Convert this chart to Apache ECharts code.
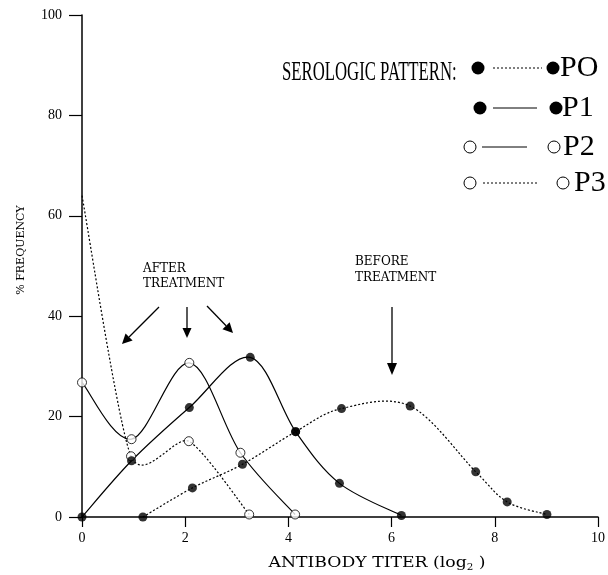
<!DOCTYPE html>
<html>
<head>
<meta charset="utf-8">
<script src="https://cdn.jsdelivr.net/npm/echarts@6/dist/echarts.min.js"></script>
<style>
  html, body { margin: 0; padding: 0; background: #fff; }
  #chart { width: 608px; height: 575px; }
</style>
</head>
<body>
<div id="chart"></div>
<script>
// Antibody titer (log2) vs % frequency, one curve per serologic pattern
const p0Titer = [1.18, 2.14, 3.11, 4.14, 5.03, 6.36, 7.63, 8.24, 9.01];
const p0Freq  = [0, 5.8, 10.5, 17.0, 21.6, 22.1, 9.0, 3.0, 0.5];

const p1Titer = [0, 0.96, 2.08, 3.26, 4.14, 4.99, 6.19];
const p1Freq  = [0, 11.2, 21.8, 31.8, 17.0, 6.7, 0.3];

const p2Titer = [0, 0.96, 2.08, 3.07, 4.13];
const p2Freq  = [26.8, 15.5, 30.7, 12.8, 0.5];

const p3Titer = [0, 0.95, 2.07, 3.24];
const p3Freq  = [64, 12.1, 15.1, 0.5];

const xTicks = [0, 2, 4, 6, 8, 10];
const yTicks = [0, 20, 40, 60, 80, 100];

const SERIF = '"Liberation Serif", "Times New Roman", serif';
const WIDE_SERIF = '"DejaVu Serif", serif';

function zip(xs, ys) { return xs.map((x, i) => [x, ys[i]]); }

const filled = { color: '#000' };
const hollow = { color: '#fff', borderColor: '#000', borderWidth: 1 };

// Smooth curve through the data points (Catmull-Rom in pixel space),
// positioned with the chart's own coordinate system.
function curveSeries(name, xs, ys, dotted, tension) {
  return {
    name, type: 'custom', data: zip(xs, ys), z: 1, silent: true,
    renderItem(params, api) {
      if (params.dataIndex !== 0) return null;
      const p = xs.map((x, i) => api.coord([x, ys[i]]));
      const n = p.length;
      let d = 'M' + p[0][0] + ' ' + p[0][1];
      for (let i = 0; i < n - 1; i++) {
        const a = p[i - 1] || p[i], b = p[i], c = p[i + 1], e = p[i + 2] || p[i + 1];
        const k = tension / 6;
        const c1x = b[0] + (c[0] - a[0]) * k, c1y = b[1] + (c[1] - a[1]) * k;
        const c2x = c[0] - (e[0] - b[0]) * k, c2y = c[1] - (e[1] - b[1]) * k;
        d += ' C' + c1x + ' ' + c1y + ' ' + c2x + ' ' + c2y + ' ' + c[0] + ' ' + c[1];
      }
      return {
        type: 'path',
        shape: { pathData: d },
        style: { fill: null, stroke: '#000', lineWidth: 1.2, lineDash: dotted ? [2, 2] : null }
      };
    }
  };
}

function markerSeries(name, xs, ys, item, hideFirst) {
  const data = zip(xs, ys).map((v, i) =>
    (hideFirst && i === 0) ? { value: v, symbol: 'none' } : v);
  return {
    name, type: 'scatter', data, z: 3, silent: true,
    symbol: 'circle', symbolSize: 9, itemStyle: item,
    emphasis: { disabled: true }
  };
}

const chart = echarts.init(document.getElementById('chart'), null, { renderer: 'canvas' });

// Legend pieces: marker, connector, marker, label
function legendRow(y, xl, xr, x1, x2, xt, label, item, dotted, r) {
  const mk = (cx) => ({
    type: 'circle', shape: { cx, cy: y, r },
    style: item.color === '#000' ? { fill: '#000' } : { fill: '#fff', stroke: '#000', lineWidth: 1 }
  });
  return [
    mk(xl),
    { type: 'line', shape: { x1, y1: y, x2, y2: y },
      style: { stroke: '#000', lineWidth: 1, lineDash: dotted ? [2, 2] : null } },
    mk(xr),
    { type: 'text', x: xt, y: y,
      style: { text: label, font: '30px ' + SERIF, fill: '#000', align: 'left', verticalAlign: 'middle' } }
  ];
}

function arrow(x1, y1, x2, y2, head, half) {
  const a = Math.atan2(y2 - y1, x2 - x1);
  const bx = x2 - head * Math.cos(a), by = y2 - head * Math.sin(a);
  const px = -Math.sin(a) * half, py = Math.cos(a) * half;
  return [
    { type: 'line', shape: { x1, y1, x2: bx, y2: by }, style: { stroke: '#000', lineWidth: 1.3 } },
    { type: 'polygon', shape: { points: [[x2, y2], [bx + px, by + py], [bx - px, by - py]] },
      style: { fill: '#000' } }
  ];
}

const graphics = [
  { type: 'text', x: 282, y: 72.5, scaleX: 0.62,
    style: { text: 'SEROLOGIC PATTERN:', font: '27px ' + SERIF, fill: '#000', align: 'left', verticalAlign: 'middle' } },
  ...legendRow(68, 478, 553, 493, 542, 560, 'PO', filled, true, 6.5),
  ...legendRow(108, 480, 556, 493, 537, 562, 'P1', filled, false, 6.5),
  ...legendRow(147, 470, 554, 482, 527, 563, 'P2', hollow, false, 6),
  ...legendRow(183, 470, 563, 483, 537, 574, 'P3', hollow, true, 6),

  { type: 'text', x: 143, y: 276,
    style: { text: 'AFTER\nTREATMENT', font: '12px ' + WIDE_SERIF, fill: '#000', align: 'left', verticalAlign: 'middle', lineHeight: 15 } },
  { type: 'text', x: 355, y: 270,
    style: { text: 'BEFORE\nTREATMENT', font: '12px ' + WIDE_SERIF, fill: '#000', align: 'left', verticalAlign: 'middle', lineHeight: 16 } },
  ...arrow(159, 307, 122, 344, 10, 5),
  ...arrow(187, 307, 187, 338, 10, 4.5),
  ...arrow(207, 306, 233, 333, 10, 5),
  ...arrow(392, 307, 392, 375, 12, 5),

  { type: 'text', x: 377, y: 563, scaleX: 1.15,
    style: {
      text: '{a|ANTIBODY TITER (log}{s|2}{a| )}',
      align: 'center', verticalAlign: 'middle',
      rich: {
        a: { fontFamily: WIDE_SERIF, fontSize: 15, fill: '#000', color: '#000' },
        s: { fontFamily: WIDE_SERIF, fontSize: 9, fill: '#000', color: '#000', padding: [10, 0, 0, 0] }
      }
    } },
  { type: 'text', x: 21, y: 250, rotation: Math.PI / 2,
    style: { text: '% FREQUENCY', font: '11px ' + WIDE_SERIF, fill: '#000', align: 'center', verticalAlign: 'middle' } }
];

const axisCommon = {
  type: 'value',
  axisLine: { show: true, lineStyle: { color: '#000', width: 1.5 } },
  axisTick: { show: true, inside: false, lineStyle: { color: '#000', width: 1.2 } },
  splitLine: { show: false },
  axisLabel: { color: '#000', fontFamily: SERIF, fontSize: 14 }
};

chart.setOption({
  animation: false,
  backgroundColor: '#fff',
  grid: { left: 82, right: 8, top: 15, bottom: 58 },
  xAxis: Object.assign({}, axisCommon, {
    min: xTicks[0], max: xTicks[xTicks.length - 1], interval: xTicks[1] - xTicks[0],
    axisTick: Object.assign({}, axisCommon.axisTick, { length: 10 }),
    axisLabel: Object.assign({}, axisCommon.axisLabel, { margin: 14 })
  }),
  yAxis: Object.assign({}, axisCommon, {
    min: yTicks[0], max: yTicks[yTicks.length - 1], interval: yTicks[1] - yTicks[0],
    axisTick: Object.assign({}, axisCommon.axisTick, { length: 13 }),
    axisLabel: Object.assign({}, axisCommon.axisLabel, { margin: 20 })
  }),
  series: [
    curveSeries('P3 curve', p3Titer, p3Freq, true, 0.7),
    curveSeries('P2 curve', p2Titer, p2Freq, false, 1),
    curveSeries('P0 curve', p0Titer, p0Freq, true, 1),
    curveSeries('P1 curve', p1Titer, p1Freq, false, 1),
    markerSeries('P3', p3Titer, p3Freq, hollow, true),
    markerSeries('P2', p2Titer, p2Freq, hollow, false),
    markerSeries('P0', p0Titer, p0Freq, filled, false),
    markerSeries('P1', p1Titer, p1Freq, filled, false)
  ],
  graphic: graphics
});
</script>
</body>
</html>
